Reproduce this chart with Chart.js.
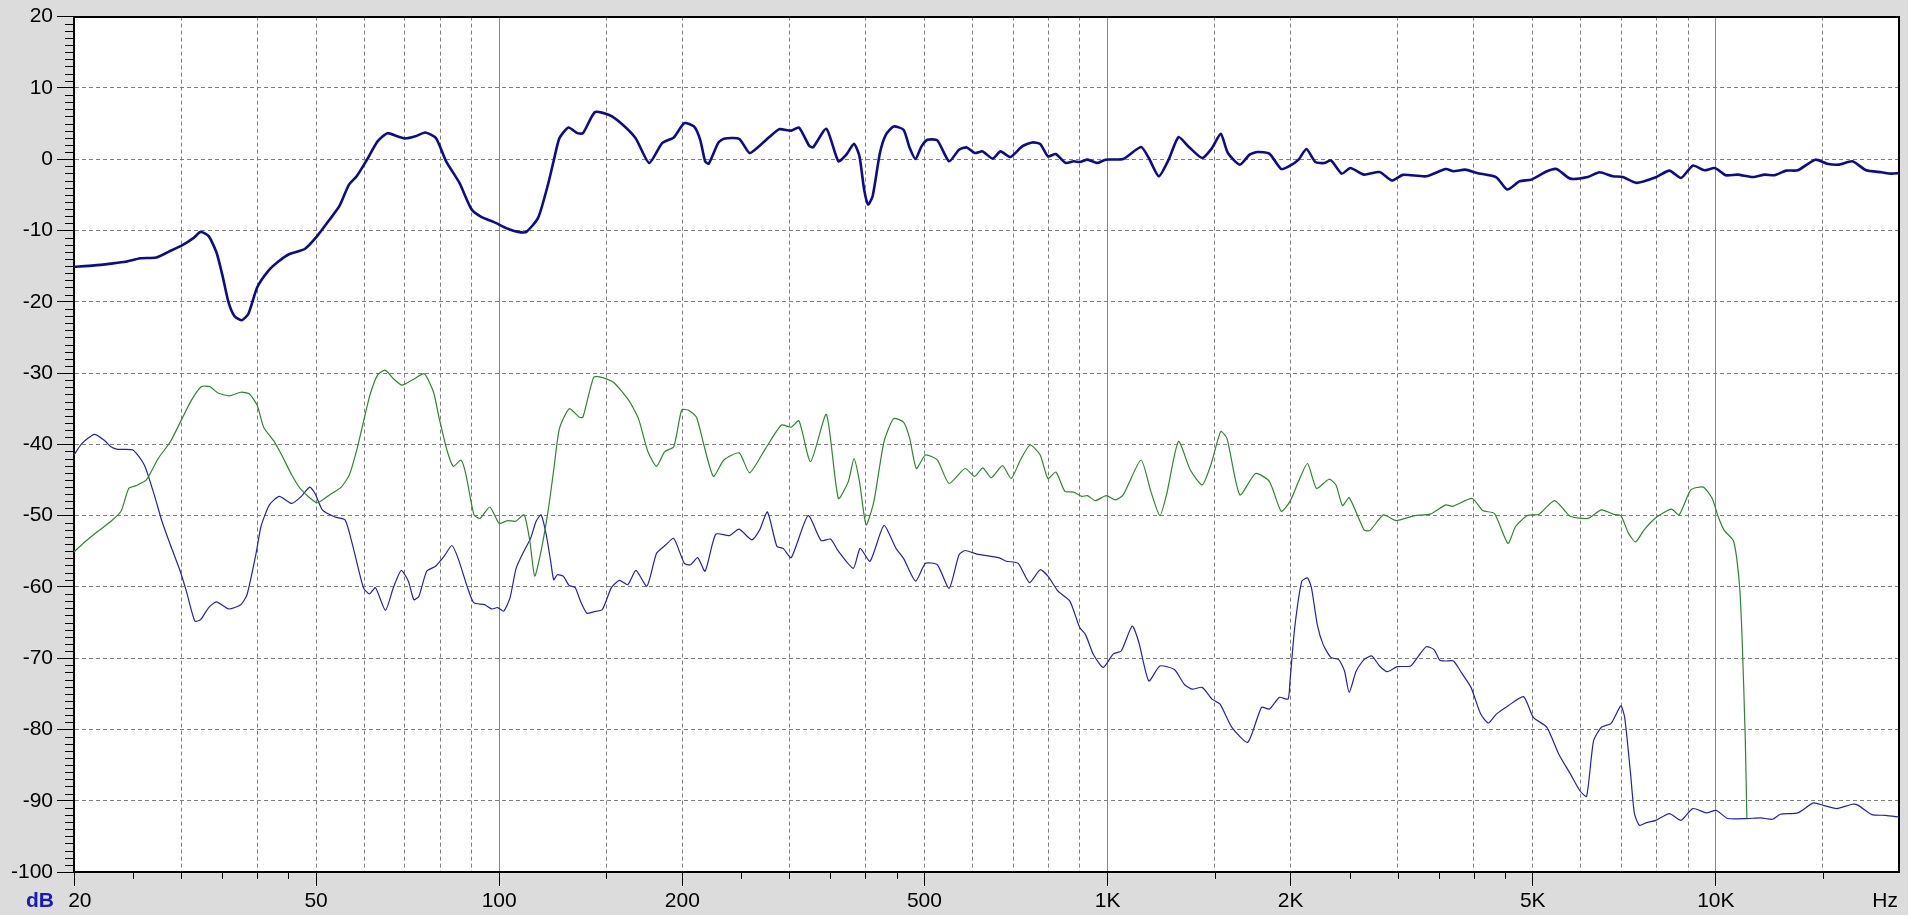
<!DOCTYPE html>
<html>
<head>
<meta charset="utf-8">
<script src="https://cdn.jsdelivr.net/npm/chart.js@4.4.1/dist/chart.umd.min.js"></script>
<style>
  html, body { margin: 0; padding: 0; background: #dcdcdc; }
  canvas { display: block; }
</style>
</head>
<body>
<canvas id="myChart" width="1908" height="915"></canvas>
<script>
// frequency axis (Hz)
const labelFreqs = [20, 50, 100, 200, 500, 1000, 2000, 5000, 10000];
const labelText = ['  20', '50', '100', '200', '500', '1K', '2K', '5K', '10K'];
const gridFreqs = [30, 40, 50, 60, 70, 80, 90, 150, 200, 300, 400, 500, 600, 700, 800, 900,
  1500, 2000, 3000, 4000, 5000, 6000, 7000, 8000, 9000, 15000];
const decadeFreqs = [100, 1000, 10000];
const minorTickFreqs = [25, 30, 35, 40, 45, 150, 250, 300, 350, 400, 450,
  1500, 2500, 3000, 3500, 4000, 4500, 15000];
const dbTicks = [-100, -90, -80, -70, -60, -50, -40, -30, -20, -10, 0, 10, 20];

// [Hz, dB]
const mainResponse = [
  [20, -15.1], [21.6, -14.9], [23, -14.65], [24.3, -14.4], [25.7, -13.9], [27.3, -13.8], [28.6, -13.0],
  [30.1, -12.1], [31.5, -11.0], [32.3, -10.2], [33.3, -10.8], [34.3, -13.1], [35.1, -16.4], [35.9, -20.1],
  [36.7, -22.0], [37.7, -22.6], [38.7, -21.7], [40, -18.0], [41.7, -15.7], [43.3, -14.4], [45.2, -13.3],
  [47.9, -12.6], [50.2, -10.8], [52.6, -8.5], [54.6, -6.6], [56.6, -3.6], [58.3, -2.4], [60.6, -0.1],
  [63.1, 2.5], [65.5, 3.65], [68, 3.2], [70, 2.9], [72.8, 3.2], [75.6, 3.75], [78.7, 2.96], [81.8, -0.3],
  [86, -3.3], [90, -7.0], [93.4, -8.1], [97.9, -8.8], [103.3, -9.76], [107.4, -10.2], [110.8, -10.2],
  [115.9, -8.2], [120.5, -3.3], [123, -0.1], [125.6, 2.95], [130, 4.45], [134.4, 3.65], [137.3, 3.65],
  [143.7, 6.6], [151.6, 6.2], [158.6, 5.05], [167.6, 2.95], [176.4, -0.54], [185.3, 2.26], [193.6, 3.05],
  [201.5, 5.05], [209, 4.6], [214, 2.72], [218, -0.3], [221, -0.63], [229, 2.26], [234, 2.86], [248, 2.86],
  [258, 0.86], [268, 1.88], [278, 3.1], [288.5, 4.2], [302, 4.0], [311, 4.45], [323, 1.93], [328, 1.65],
  [345, 4.26], [361, -0.3], [372, 0.63], [383, 2.16], [391, 0.4], [398, -4.26], [404, -6.36], [411, -5.2],
  [422.5, 0.86], [432, 3.42], [445, 4.59], [462, 4.12], [473, 1.56], [483.5, 0.02], [494.5, 1.79],
  [506, 2.72], [525, 2.63], [549, -0.3], [570, 1.33], [587, 1.65], [605, 0.86], [623.5, 1.09], [647, 0.07],
  [667, 1.09], [692, 0.3], [724, 1.79], [752, 2.35], [775, 2.12], [798, 0.4], [822, 0.72], [854, -0.54],
  [880, -0.3], [900, -0.4], [927, -0.07], [962, -0.54], [992, -0.07], [1061, 0.02], [1135, 1.7],
  [1169, 0.16], [1214, -2.4], [1260, -0.07], [1308, 3.1], [1358, 1.79], [1431, 0.16], [1485, 1.56],
  [1535, 3.56], [1577, 0.86], [1650, -0.77], [1712, 0.63], [1764, 1.0], [1845, 0.77], [1930, -1.38],
  [1995, -0.91], [2061, -0.07], [2123, 1.42], [2196, -0.4], [2272, -0.54], [2329, -0.17], [2427, -2.03],
  [2507, -1.24], [2640, -2.17], [2800, -1.8], [2935, -3.0], [3059, -2.2], [3341, -2.4], [3597, -1.38],
  [3704, -1.7], [3871, -1.47], [4046, -1.94], [4356, -2.54], [4539, -4.26], [4758, -3.1], [4973, -2.87],
  [5275, -1.7], [5472, -1.38], [5762, -2.73], [6157, -2.5], [6435, -1.84], [6775, -2.4], [7029, -2.5],
  [7401, -3.33], [7967, -2.54], [8388, -1.61], [8767, -2.64], [9163, -0.91], [9577, -1.56], [9965, -1.24],
  [10385, -2.26], [10854, -2.17], [11513, -2.5], [12032, -2.17], [12484, -2.26], [13048, -1.61],
  [13638, -1.56], [14573, -0.07], [15232, -0.63], [15920, -0.77], [16770, -0.3], [17656, -1.56],
  [18728, -1.84], [19431, -2.03], [20000, -1.94],
];

const greenResponse = [
  [20, -55.1], [20.9, -53.6], [21.9, -52.2], [23, -50.8], [23.9, -49.4], [24.6, -46.2], [25.3, -45.8],
  [26.3, -45.0], [27.5, -42.0], [28.8, -39.65], [30.1, -36.4], [31.2, -33.8], [32.4, -31.9], [33.4, -31.9],
  [34.5, -32.8], [36, -33.2], [37.6, -32.7], [38.8, -32.9], [40, -34.5], [41, -37.6], [42.7, -39.65],
  [43.9, -41.5], [45.6, -44.3], [47.3, -46.4], [50.2, -48.2], [52.6, -47.1], [55, -46.0], [56.7, -44.3],
  [58.4, -40.6], [59.8, -36.9], [61.3, -33.1], [63.1, -30.3], [64.9, -29.6], [67, -30.8], [69.2, -31.7],
  [72.2, -30.9], [75.3, -30.1], [78, -32.7], [79.7, -36.4], [82.2, -41.05], [84.1, -43.1], [86.5, -42.2],
  [88.1, -44.1], [90.9, -49.9], [93, -50.4], [96.5, -48.8], [100, -51.1], [103.2, -50.7], [106.4, -50.8],
  [109.9, -49.9], [112.3, -53.6], [114.4, -58.5], [117.4, -54.6], [120.5, -49.0], [123, -43.4],
  [125.6, -37.8], [130.4, -35.0], [135.4, -36.2], [137.3, -36.2], [143, -30.6], [147.3, -30.6],
  [154.1, -31.3], [163.2, -33.8], [169.4, -36.4], [175.6, -41.05], [181.4, -43.1], [187, -41.05],
  [193.6, -40.35], [199.5, -35.2], [204.5, -35.2], [211, -36.2], [217, -40.1], [225, -44.5], [234, -42.2],
  [248, -41.2], [258, -44.0], [274, -40.6], [291, -37.3], [302, -37.6], [311, -36.7], [325, -42.45],
  [345, -35.8], [361, -47.6], [375, -45.2], [383, -42.0], [391, -45.2], [401, -51.3], [413, -48.0],
  [429, -39.65], [445, -36.4], [462, -36.9], [473, -39.2], [485, -43.4], [502, -41.5], [525, -42.2],
  [549, -45.5], [583, -43.4], [605, -44.5], [623.5, -43.3], [644, -44.7], [672, -43.0], [694.5, -44.8],
  [719, -42.2], [746, -40.1], [775, -41.5], [798, -44.8], [822.5, -43.9], [851, -46.6], [880, -46.7],
  [907, -47.3], [927, -47.2], [955, -47.9], [995, -47.2], [1030, -47.8], [1061, -47.1], [1135, -42.2],
  [1178, -46.6], [1219, -50.0], [1250, -47.1], [1308, -39.6], [1368, -43.6], [1431, -45.7], [1481, -42.7],
  [1535, -38.2], [1572, -39.2], [1650, -47.1], [1751, -44.1], [1845, -45.2], [1930, -49.4], [1995, -48.0],
  [2061, -45.2], [2132, -42.7], [2206, -46.2], [2312, -44.9], [2374, -45.7], [2434, -48.6], [2496, -47.5],
  [2640, -52.0], [2699, -52.1], [2842, -49.9], [2979, -50.7], [3197, -50.0], [3391, -49.8], [3597, -48.5],
  [3693, -48.7], [3975, -47.6], [4137, -49.3], [4324, -49.7], [4552, -53.9], [4688, -51.5], [4900, -50.0],
  [5122, -49.8], [5432, -47.9], [5762, -50.1], [6157, -50.4], [6483, -49.2], [6775, -49.8], [6978, -50.0],
  [7186, -52.5], [7379, -53.7], [7622, -52.0], [7967, -50.3], [8450, -49.1], [8703, -49.9], [9096, -46.4],
  [9535, -46.0], [9863, -47.6], [10083, -50.1], [10308, -52.0], [10695, -53.6], [10934, -59.7],
  [11048, -67.6], [11179, -81.6], [11245, -92.5],
];

const blueResponse = [
  [20, -41.5], [20.6, -39.9], [21.6, -38.6], [22.4, -39.4], [23, -40.35], [23.6, -40.7], [25, -40.8],
  [26.1, -42.9], [27.1, -47.1], [27.9, -50.8], [28.8, -54.1], [29.9, -57.8], [30.6, -60.6], [31.6, -64.8],
  [32.3, -64.6], [33.3, -62.9], [34.3, -62.1], [35.9, -63.1], [37.6, -62.5], [38.5, -61.1], [39.8, -55.5],
  [40.6, -51.5], [41.9, -48.5], [43.5, -47.3], [45.6, -48.3], [47.3, -47.3], [48.8, -46.0], [49.8, -46.9],
  [51.2, -49.2], [53.7, -50.2], [55.8, -50.6], [57.4, -54.1], [59.8, -60.1], [61.2, -61.0], [62.6, -60.1],
  [65, -63.3], [67, -60.1], [69, -57.7], [70.9, -59.2], [72.4, -61.8], [73.8, -61.3], [76, -57.8],
  [78.6, -57.1], [81.2, -55.7], [83.6, -54.2], [85.6, -56.0], [88.7, -60.1], [90.8, -62.2], [94.6, -62.5],
  [97.3, -63.1], [99.4, -62.9], [101.7, -63.4], [104.2, -61.5], [106.6, -57.4], [109.8, -55.0],
  [112.6, -53.2], [115, -50.8], [117.2, -49.9], [119.5, -52.7], [121.5, -56.4], [122.9, -59.0],
  [124.6, -58.3], [127.4, -58.5], [130.3, -59.8], [133.3, -60.1], [136.3, -62.2], [139.4, -63.7],
  [142.8, -63.5], [147.7, -63.2], [152.9, -60.1], [157.6, -59.1], [162.7, -59.7], [167.8, -57.7],
  [174.9, -59.9], [181.4, -55.3], [187.9, -54.1], [193.6, -53.2], [201.5, -56.7], [206.2, -56.9],
  [212, -55.9], [218, -57.8], [227, -52.6], [239, -52.8], [248, -51.9], [260, -53.4], [268, -52.0],
  [276, -49.5], [286, -54.3], [293, -54.6], [302, -55.9], [322, -50.0], [338, -53.5], [350.5, -53.3],
  [361, -55.0], [382, -57.4], [392, -54.6], [407, -56.4], [429, -51.4], [449, -54.6], [462, -56.0],
  [483.5, -59.2], [502, -56.7], [525, -56.9], [549, -60.2], [570, -55.5], [583, -54.9], [610, -55.4],
  [662, -55.9], [682, -56.4], [713, -56.7], [744, -59.4], [775, -57.6], [798, -58.5], [829, -60.6],
  [867, -62.0], [900, -65.7], [920, -66.7], [948, -69.5], [984, -71.3], [1022, -69.4], [1053, -69.0],
  [1098, -65.5], [1126, -67.8], [1169, -73.2], [1219, -71.1], [1288, -71.6], [1338, -73.7], [1378, -74.35],
  [1431, -74.1], [1485, -75.75], [1531, -76.45], [1601, -79.7], [1700, -81.8], [1791, -76.9], [1845, -77.15],
  [1916, -75.5], [1980, -75.75], [1995, -73.2], [2031, -65.7], [2086, -59.2], [2132, -58.75], [2164, -60.15],
  [2212, -65.3], [2262, -68.1], [2329, -69.9], [2399, -70.2], [2452, -71.8], [2496, -74.8], [2563, -71.8],
  [2640, -70.2], [2719, -69.7], [2800, -71.1], [2884, -71.9], [2992, -71.2], [3150, -71.1], [3244, -69.7],
  [3341, -68.4], [3441, -68.8], [3518, -70.3], [3597, -70.4], [3704, -70.4], [3815, -72.0], [3958, -74.1],
  [4106, -77.85], [4229, -79.1], [4356, -77.85], [4552, -76.7], [4829, -75.4], [5010, -78.3], [5275, -79.7],
  [5513, -83.4], [5762, -86.2], [5978, -88.6], [6130, -89.4], [6294, -81.6], [6483, -79.7], [6726, -79.15],
  [6978, -76.7], [7081, -78.3], [7240, -86.2], [7347, -91.8], [7489, -93.45], [7679, -93.1], [7967, -92.75],
  [8388, -91.8], [8767, -92.75], [9163, -91.1], [9647, -91.7], [10010, -91.35], [10462, -92.5],
  [11261, -92.5], [11857, -92.4], [12392, -92.6], [12763, -91.9], [13638, -91.7], [14466, -90.3],
  [15009, -90.65], [15803, -91.1], [16770, -90.5], [17144, -90.65], [18050, -91.95], [19006, -92.05],
  [20000, -92.3],
];

const xTickFreqs = [...new Set([...labelFreqs, ...gridFreqs, ...decadeFreqs, 20000])].sort((a, b) => a - b);
const toPoints = (arr) => arr.map(([f, db]) => ({ x: f, y: db }));
const axisFont = { family: 'Arial, "Liberation Sans", sans-serif', size: 21 };
const gridGray = '#808080';

// white plot area, short tick marks, unit captions
const plotDecor = {
  id: 'plotDecor',
  beforeDraw(chart) {
    const { ctx, chartArea: a } = chart;
    ctx.save();
    ctx.fillStyle = '#dcdcdc';
    ctx.fillRect(0, 0, chart.width, chart.height);
    ctx.fillStyle = '#ffffff';
    ctx.fillRect(a.left, a.top, a.right - a.left, a.bottom - a.top);
    ctx.restore();
  },
  afterDraw(chart) {
    const { ctx, chartArea: a } = chart;
    const { x, y } = chart.scales;
    ctx.save();
    ctx.strokeStyle = '#000';
    ctx.lineWidth = 1;
    ctx.beginPath();
    minorTickFreqs.forEach((f) => {
      const px = Math.round(x.getPixelForValue(f)) + 0.5;
      ctx.moveTo(px, a.bottom);
      ctx.lineTo(px, a.bottom + 7);
    });
    for (let v = -99; v < 20; v++) {
      if (v % 10 === 0) continue;
      const py = Math.round(y.getPixelForValue(v)) + 0.5;
      ctx.moveTo(a.left - 9, py);
      ctx.lineTo(a.left, py);
    }
    ctx.stroke();

    ctx.textBaseline = 'middle';
    ctx.font = 'bold 21px Arial, "Liberation Sans", sans-serif';
    ctx.fillStyle = '#1a1ab4';
    ctx.textAlign = 'left';
    ctx.fillText('dB', 26, 901);
    ctx.font = '21px Arial, "Liberation Sans", sans-serif';
    ctx.fillStyle = '#000';
    ctx.textAlign = 'right';
    ctx.fillText('Hz', 1898, 901);
    ctx.restore();
  },
};

new Chart(document.getElementById('myChart'), {
  type: 'line',
  data: {
    datasets: [
      {
        label: 'Response',
        data: toPoints(mainResponse),
        borderColor: '#0c0c8c',
        borderWidth: 2.6,
        pointRadius: 0,
        tension: 0.2,
      },
      {
        label: 'Green',
        data: toPoints(greenResponse),
        borderColor: '#2e862e',
        borderWidth: 1.2,
        pointRadius: 0,
        tension: 0.2,
      },
      {
        label: 'Blue',
        data: toPoints(blueResponse),
        borderColor: '#2222b0',
        borderWidth: 1.2,
        pointRadius: 0,
        tension: 0.2,
      },
    ],
  },
  options: {
    responsive: false,
    animation: false,
    layout: { padding: { top: 13, right: 9, left: 0, bottom: 0 } },
    plugins: {
      legend: { display: false },
      tooltip: { enabled: false },
    },
    scales: {
      x: {
        type: 'logarithmic',
        min: 20,
        max: 20000,
        afterBuildTicks: (s) => { s.ticks = xTickFreqs.map((v) => ({ value: v })); },
        afterFit: (s) => { s.height = 43; },
        border: { color: '#000', width: 2, dash: [4, 3] },
        grid: {
          color: (c) => (gridFreqs.includes(c.tick.value) ? gridGray : 'transparent'),
          tickColor: (c) => (labelFreqs.includes(c.tick.value) ? '#000' : 'transparent'),
          tickLength: 14,
          lineWidth: 1,
        },
        ticks: {
          autoSkip: false,
          maxRotation: 0,
          padding: 3,
          color: '#000',
          font: axisFont,
          callback: (v) => labelText[labelFreqs.indexOf(v)] ?? '',
        },
      },
      x2: {
        type: 'logarithmic',
        position: 'top',
        min: 20,
        max: 20000,
        afterBuildTicks: (s) => { s.ticks = decadeFreqs.map((v) => ({ value: v })); },
        afterFit: (s) => { s.height = 0; },
        border: { color: '#000', width: 2 },
        grid: { color: '#8a8a8a', lineWidth: 1, drawTicks: false },
        ticks: { display: false },
      },
      y: {
        min: -100,
        max: 20,
        afterBuildTicks: (s) => { s.ticks = dbTicks.map((v) => ({ value: v })); },
        afterFit: (s) => { s.width = 74; },
        border: { color: '#000', width: 2, dash: [4, 3] },
        grid: {
          color: (c) => (c.tick.value === -100 || c.tick.value === 20 ? 'transparent' : gridGray),
          tickColor: '#000',
          tickLength: 17,
          lineWidth: 1,
        },
        ticks: { color: '#000', padding: 4, font: axisFont },
      },
      y2: {
        position: 'right',
        min: -100,
        max: 20,
        afterFit: (s) => { s.width = 0; },
        border: { color: '#000', width: 2 },
        grid: { display: false, drawTicks: false },
        ticks: { display: false },
      },
    },
  },
  plugins: [plotDecor],
});
</script>
</body>
</html>
